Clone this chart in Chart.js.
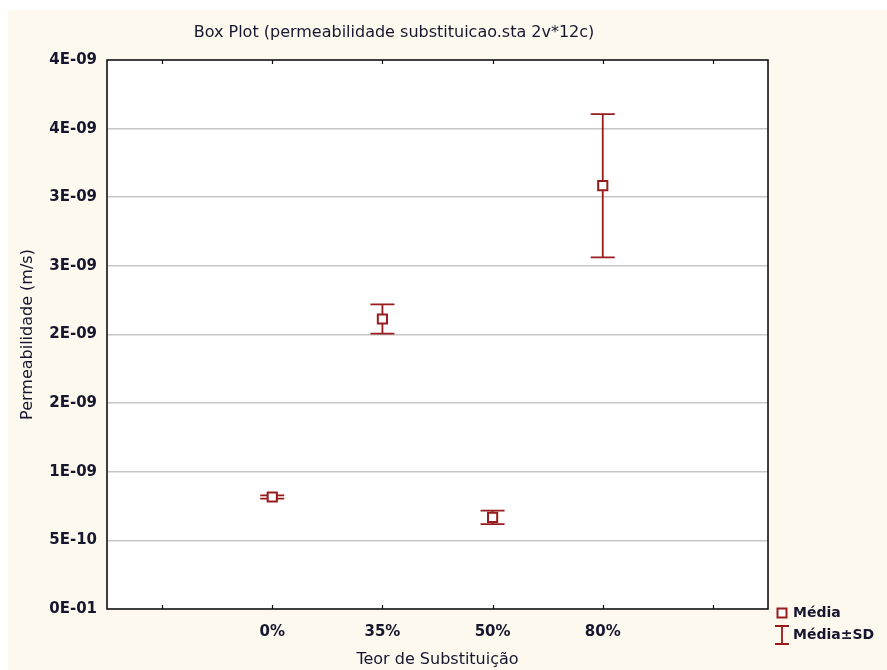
<!DOCTYPE html>
<html>
<head>
<meta charset="utf-8">
<title>Box Plot</title>
<script src="https://cdn.jsdelivr.net/npm/chart.js@4.4.0/dist/chart.umd.min.js"></script>
<style>
  html, body { margin: 0; padding: 0; background: #ffffff; }
  #boxplot { display: block; }
</style>
</head>
<body>
<canvas id="boxplot" width="887" height="670"></canvas>
<script>
"use strict";

// categories on the x axis (blank ones pad both ends like the original)
var categories = ['0%', '35%', '50%', '80%'];
var xLabels = [''].concat(categories, ['']);

// mean and standard deviation
var mediaValues = [8.16e-10, 2.113e-9, 6.68e-10, 3.084e-9];
var sdValues = [1.2e-11, 1.07e-10, 4.9e-11, 5.22e-10];

// y ticks as printed in the original (rounded scientific labels)
var yTickValues = [0, 5e-10, 1e-9, 1.5e-9, 2e-9, 2.5e-9, 3e-9, 3.5e-9, 4e-9];
var yTickLabels = ['0E-01', '5E-10', '1E-09', '2E-09', '2E-09', '3E-09', '3E-09', '4E-09', '4E-09'];

var chartTitle = 'Box Plot (permeabilidade substituicao.sta 2v*12c)';
var legendLabels = ['Média', 'Média±SD'];

var RED = '#981c1c';
var TEXT = '#16162e';
var FONT = "'DejaVu Sans', sans-serif";

/*----------------------------------------*/
/*  background, frame, error bars, legend
/*----------------------------------------*/
var paperPlugin = {
    id: 'paper',
    beforeDraw: function (chart) {
        var c = chart.ctx, a = chart.chartArea;
        c.save();
        c.fillStyle = '#fdf9ee';
        c.fillRect(8, 10, chart.width - 8, chart.height - 10);
        c.fillStyle = '#ffffff';
        c.fillRect(a.left, a.top, a.right - a.left, a.bottom - a.top);
        c.restore();
    },
    beforeDatasetsDraw: function (chart) {
        var c = chart.ctx, x = chart.scales.x, y = chart.scales.y;
        c.save();
        c.strokeStyle = RED;
        c.lineWidth = 1.8;
        for (var i = 0; i < mediaValues.length; i++) {
            var px = x.getPixelForValue(i + 1);
            var top = y.getPixelForValue(mediaValues[i] + sdValues[i]);
            var bot = y.getPixelForValue(mediaValues[i] - sdValues[i]);
            c.beginPath();
            c.moveTo(px, top); c.lineTo(px, bot);
            c.moveTo(px - 12, top); c.lineTo(px + 12, top);
            c.moveTo(px - 12, bot); c.lineTo(px + 12, bot);
            c.stroke();
        }
        c.restore();
    },
    afterDraw: function (chart) {
        var c = chart.ctx, a = chart.chartArea, x = chart.scales.x;
        c.save();
        // frame
        c.strokeStyle = '#111111';
        c.lineWidth = 1.6;
        c.strokeRect(a.left, a.top, a.right - a.left, a.bottom - a.top);
        // small inward ticks at the category centres
        c.lineWidth = 1.2;
        c.beginPath();
        for (var i = 0; i < xLabels.length; i++) {
            var px = Math.round(x.getPixelForValue(i)) + 0.5;
            c.moveTo(px, a.top); c.lineTo(px, a.top + 4);
            c.moveTo(px, a.bottom); c.lineTo(px, a.bottom - 4);
        }
        c.stroke();

        // title
        c.fillStyle = TEXT;
        c.font = '16px ' + FONT;
        c.textAlign = 'center';
        c.textBaseline = 'middle';
        c.fillText(chartTitle, 394, 33);

        // legend
        var lx = 782, ly1 = 613, ly2 = 635;
        c.strokeStyle = RED;
        c.lineWidth = 2;
        c.fillStyle = '#ffffff';
        c.fillRect(lx - 4.5, ly1 - 4.5, 9, 9);
        c.strokeRect(lx - 4.5, ly1 - 4.5, 9, 9);
        c.lineWidth = 1.8;
        c.beginPath();
        c.moveTo(lx, ly2 - 9); c.lineTo(lx, ly2 + 9);
        c.moveTo(lx - 7, ly2 - 9); c.lineTo(lx + 7, ly2 - 9);
        c.moveTo(lx - 7, ly2 + 9); c.lineTo(lx + 7, ly2 + 9);
        c.stroke();
        c.fillStyle = TEXT;
        c.textAlign = 'left';
        c.font = 'bold 14px ' + FONT;
        c.fillText(legendLabels[0], lx + 11, ly1);
        c.fillText(legendLabels[1], lx + 11, ly2);
        c.restore();
    }
};

var ctx = document.getElementById('boxplot');
var boxplot = new Chart(ctx, {
    type: 'line',
    data: {
        labels: xLabels,
        datasets: [{
            label: legendLabels[0],
            data: [null].concat(mediaValues, [null]),
            showLine: false,
            pointStyle: 'rect',
            pointRadius: 6.5,
            pointHoverRadius: 6.5,
            pointBorderWidth: 2,
            pointBorderColor: RED,
            pointBackgroundColor: '#ffffff'
        }]
    },
    options: {
        responsive: false,
        animation: false,
        layout: { padding: { top: 60, right: 119, left: 0, bottom: 0 } },
        plugins: {
            legend: { display: false },
            title: { display: false },
            tooltip: { enabled: false }
        },
        scales: {
            x: {
                type: 'category',
                offset: true,
                grid: { display: false, drawTicks: false },
                border: { display: false },
                ticks: {
                    autoSkip: false,
                    maxRotation: 0,
                    padding: 14,
                    color: TEXT,
                    font: { family: FONT, size: 15, weight: 'bold' }
                },
                title: {
                    display: true,
                    text: 'Teor de Substituição',
                    color: TEXT,
                    font: { family: FONT, size: 16 },
                    padding: { top: 0, bottom: 1 }
                },
                afterFit: function (scale) { scale.height = 61; }
            },
            y: {
                min: 0,
                max: 4e-9,
                afterBuildTicks: function (scale) {
                    scale.ticks = yTickValues.map(function (v) { return { value: v }; });
                },
                grid: {
                    drawTicks: false,
                    color: function (c) {
                        return (c.index === 0 || c.index === yTickValues.length - 1) ? 'rgba(0,0,0,0)' : '#c6c6c6';
                    },
                    lineWidth: 1.6
                },
                border: { display: false },
                ticks: {
                    padding: 10,
                    color: TEXT,
                    font: { family: FONT, size: 15, weight: 'bold' },
                    callback: function (value, index) { return yTickLabels[index]; }
                },
                title: {
                    display: true,
                    text: 'Permeabilidade (m/s)',
                    color: TEXT,
                    font: { family: FONT, size: 16 },
                    padding: { top: 18, bottom: 0 }
                },
                afterFit: function (scale) { scale.width = 107; }
            }
        }
    },
    plugins: [paperPlugin]
});
</script>
</body>
</html>
